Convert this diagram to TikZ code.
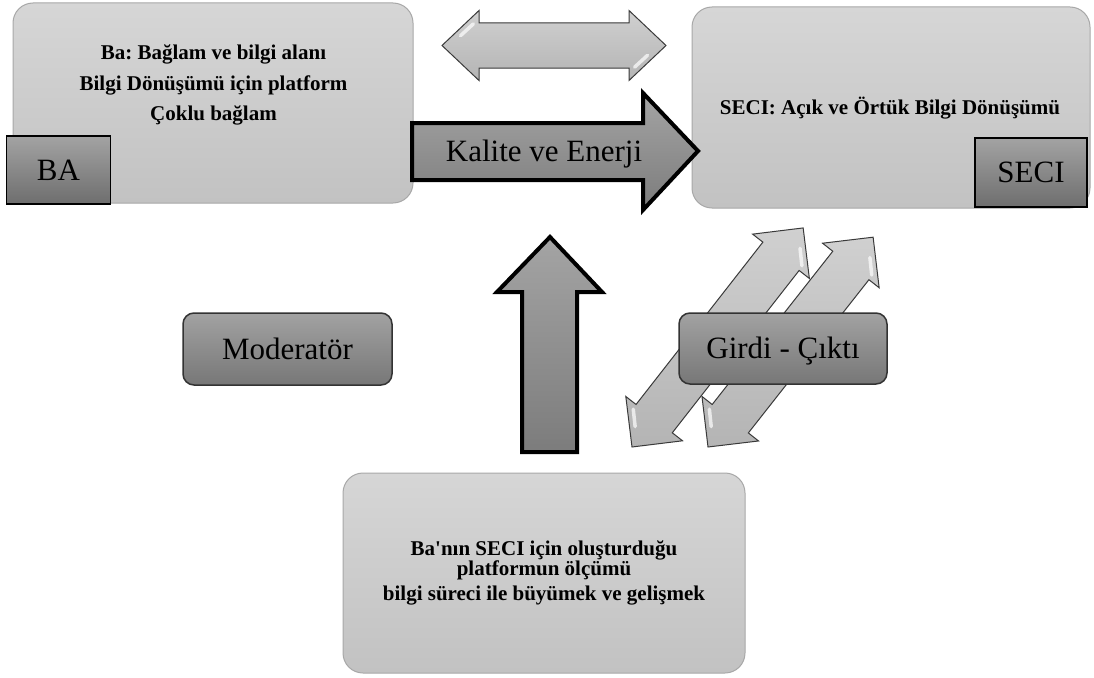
\documentclass[tikz,border=0pt]{standalone}
\usepackage{fontspec}
\setmainfont{Liberation Serif}
\frenchspacing
\definecolor{bigtop}{HTML}{D6D6D6}
\definecolor{bigbot}{HTML}{C2C2C2}
\definecolor{bigline}{HTML}{A8A8A8}
\definecolor{tagtop}{HTML}{A3A3A3}
\definecolor{tagbot}{HTML}{6E6E6E}
\definecolor{pilltop}{HTML}{A2A2A2}
\definecolor{pillbot}{HTML}{777777}
\definecolor{blocktop}{HTML}{A4A4A4}
\definecolor{blockbot}{HTML}{7C7C7C}
\definecolor{glosstop}{HTML}{D0D0D0}
\definecolor{glossbot}{HTML}{B4B4B4}
\definecolor{glossline}{HTML}{3A3A3A}
\tikzset{
  bigbox/.style={draw=bigline, line width=1pt, rounded corners=20pt,
    top color=bigtop, bottom color=bigbot, inner sep=0pt},
  tagbox/.style={draw=black, line width=1.2pt, top color=tagtop, bottom color=tagbot,
    inner sep=0pt, font=\fontsize{31}{31}\selectfont, text height=20.5pt, text depth=0pt},
  pillbox/.style={draw=black!80, line width=1.5pt, rounded corners=11pt,
    top color=pilltop, bottom color=pillbot, inner sep=0pt,
    font=\fontsize{31}{31}\selectfont, text height=20.5pt, text depth=0pt},
  boldtext/.style={font=\fontsize{21}{30.5}\selectfont\bfseries, align=center, inner sep=0pt},
  blockarrow/.style={draw=black, line width=4pt, line join=miter,
    top color=blocktop, bottom color=blockbot},
  glossarrow/.style={draw=glossline, line width=1pt, line join=miter,
    top color=glosstop, bottom color=glossbot},
  % double-headed block arrow along local x: length, head length, head half-width, shaft half-width
  pics/dblarrow/.style n args={4}{code={
    \path[pic actions] (0,0) -- (#2,-#3) -- (#2,-#4) -- ({#1-#2},-#4) -- ({#1-#2},-#3)
      -- (#1,0) -- ({#1-#2},#3) -- ({#1-#2},#4) -- (#2,#4) -- (#2,#3) -- cycle;
    \draw[white, line width=3.5pt, line cap=round, opacity=.7]
      ({0.5*#2},{-0.28*#3}) -- ({0.85*#2},{-0.62*#3});
    \draw[white, line width=3.5pt, line cap=round, opacity=.7]
      ({#1-0.5*#2},{0.28*#3}) -- ({#1-0.85*#2},{0.62*#3});
  }}
}
\begin{document}
\begin{tikzpicture}[x=1pt, y=-1pt]
\useasboundingbox (0,0) rectangle (1094,677);
\fill[white] (0,0) rectangle (1094,677);

% main areas
\node[bigbox, minimum width=400pt, minimum height=200pt] (ba) at (213,103) {};
\node[bigbox, minimum width=398pt, minimum height=201pt] (seci) at (891,107.5) {};
\node[bigbox, minimum width=402pt, minimum height=200pt] (olcum) at (544,573) {};

\node[boldtext] (batext) at (213.5,85)
  {Ba: Bağlam ve bilgi alanı\\Bilgi Dönüşümü için platform\\Çoklu bağlam};
\node[boldtext] (secitext) at (890,108) {SECI: Açık ve Örtük Bilgi Dönüşümü};
\node[boldtext, font=\fontsize{21}{21}\selectfont\bfseries] (olcumtext) at (544,573)
  {Ba\textquotesingle nın SECI için oluşturduğu\\[-1pt]platformun ölçümü\\[4pt]bilgi süreci ile büyümek ve gelişmek};

% corner tags
\node[tagbox, minimum width=104pt, minimum height=68pt] (batag) at (58.5,170) {BA};
\node[tagbox, minimum width=112pt, minimum height=69pt] (secitag) at (1031,172.5) {SECI};

% exchange between the two areas
\pic[glossarrow] (exchange) at (442,45.5) {dblarrow={224}{37}{35}{22.5}};

% quality and energy flow
\draw[blockarrow] (412,123) -- (643,123) -- (643,93) -- (698,151) -- (643,210)
  -- (643,180) -- (412,180) -- cycle;
\node[font=\fontsize{31}{31}\selectfont, inner sep=0pt, text height=20.5pt, text depth=0pt]
  (kalite) at (544,151) {Kalite ve Enerji};

% upward flow from the measurement area
\draw[blockarrow] (522,452) -- (522,292) -- (497,292) -- (550,237) -- (602,292)
  -- (577,292) -- (577,452) -- cycle;

% input / output arrows
\pic[glossarrow, rotate=52] (inout1) at (632,447) {dblarrow={278}{36}{36}{23}};
\pic[glossarrow, rotate=51.8] (inout2) at (708,447) {dblarrow={267}{36}{36}{23}};

% labels
\node[pillbox, minimum width=209pt, minimum height=72pt] (moderator) at (287.5,349) {Moderatör};
\node[pillbox, minimum width=208pt, minimum height=71pt] (girdi) at (783,348.5) {Girdi - Çıktı};
\end{tikzpicture}
\end{document}
